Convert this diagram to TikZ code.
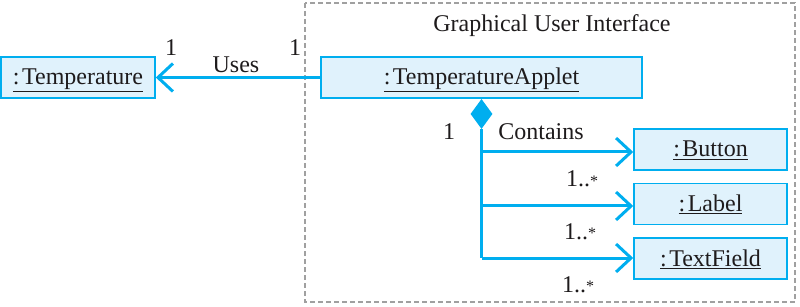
\documentclass[tikz,border=0pt]{standalone}
\usepackage{fontspec}
\setmainfont{Liberation Serif}
\usetikzlibrary{arrows.meta,shapes.geometric}
\definecolor{umlcyan}{RGB}{0,174,239}
\definecolor{umlfill}{RGB}{224,242,252}
\definecolor{umltext}{RGB}{30,27,28}
\definecolor{pkggray}{RGB}{160,160,160}
\newcommand{\mult}{1..\raisebox{1pt}{\fontsize{16}{16}\selectfont *}}
\newcommand{\objname}[1]{\underline{:\kern2.5pt #1}}
\begin{document}
\begin{tikzpicture}[x=1pt,y=-1pt,
  every node/.style={text=umltext,font=\fontsize{24}{28}\selectfont},
  object/.style={draw=umlcyan,fill=umlfill,line width=1.5pt,rectangle,
    inner xsep=0pt,inner ysep=10pt,text height=18pt,text depth=3pt,minimum height=41pt},
  link/.style={draw=umlcyan,line width=3pt,line join=miter},
  navtip/.style={-{Straight Barb[length=15pt,width=28pt]}},
  lbl/.style={anchor=base,inner sep=0pt}]
  \useasboundingbox (0,0) rectangle (800,307);

  % package frame
  \draw[pkggray,line width=2pt,dash pattern=on 5pt off 3pt] (305,3) rectangle (795,302);
  \node[lbl] (pkg) at (552,32) {Graphical User Interface};

  % objects
  \node[object,minimum width=154pt] (temp) at (78,77.5) {\objname{Temperature}};
  \node[object,minimum width=321pt] (applet) at (481.5,77.5) {\objname{TemperatureApplet}};
  \node[object,minimum width=153pt] (button) at (710.5,149.5) {\objname{Button}};
  \node[object,minimum width=153pt] (label) at (710.5,204) {\objname{Label}};
  \node[object,minimum width=153pt] (field) at (710.5,258.5) {\objname{TextField}};

  % composition diamond
  \node[diamond,fill=umlcyan,draw=none,inner sep=0pt,minimum width=22pt,minimum height=30pt,anchor=north]
    (dia) at (applet.south) {};

  % Uses association
  \draw[link,navtip] (applet.west) -- (temp.east);
  \node[lbl] (usesA) at (171,56) {1};
  \node[lbl] (uses) at (236,73) {Uses};
  \node[lbl] (usesB) at (295,56) {1};

  % Contains composition
  \coordinate (trunkB) at (dia.south |- 0,152);
  \coordinate (trunkL) at (dia.south |- 0,206);
  \coordinate (trunkF) at (dia.south |- 0,258);
  \draw[link] (dia.south) -- (trunkF);
  \draw[link,navtip] (trunkB) -- (button.west |- trunkB);
  \draw[link,navtip] (trunkL) -- (label.west |- trunkL);
  \draw[link,navtip] (trunkF) -- (field.west |- trunkF);

  \node[lbl] (one) at (449,140) {1};
  \node[lbl] (contains) at (541,140) {Contains};
  \node[lbl] (mb) at (582,187) {\mult};
  \node[lbl] (ml) at (580,239) {\mult};
  \node[lbl] (mf) at (578,292) {\mult};
\end{tikzpicture}
\end{document}
